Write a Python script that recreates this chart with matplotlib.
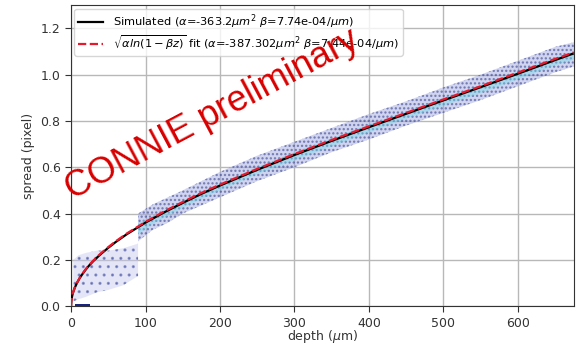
import matplotlib
matplotlib.use("Agg")
import matplotlib.pyplot as plt

# ---- data ----
curve_depth = [0, 0.5, 1, 2, 3, 5, 8, 12, 15, 20, 25, 30, 40, 50, 60, 75, 100, 125, 150,
               175, 200, 250, 300, 350, 400, 450, 500, 550, 600, 650, 675]
sim_spread = [0.0, 0.025, 0.035, 0.050, 0.061, 0.079, 0.100, 0.123, 0.137, 0.159, 0.178,
              0.195, 0.225, 0.252, 0.277, 0.311, 0.361, 0.405, 0.446, 0.485, 0.521, 0.589,
              0.653, 0.714, 0.773, 0.831, 0.889, 0.946, 1.004, 1.063, 1.092]
fit_spread = [0.0, 0.025, 0.036, 0.051, 0.062, 0.080, 0.101, 0.124, 0.139, 0.161, 0.180,
              0.197, 0.228, 0.255, 0.280, 0.314, 0.364, 0.409, 0.450, 0.489, 0.525, 0.593,
              0.657, 0.718, 0.777, 0.835, 0.893, 0.950, 1.009, 1.068, 1.096]

# scattered simulated points: envelope of the point cloud
early_depth = [3, 10, 20, 35, 50, 70, 90]
early_lo = [0.02, 0.03, 0.04, 0.06, 0.07, 0.09, 0.13]
early_hi = [0.20, 0.22, 0.23, 0.24, 0.24, 0.25, 0.27]

zero_depth = [5, 25]
zero_lo = [0.0, 0.0]
zero_hi = [0.008, 0.008]

band_depth = [90, 110, 130, 150, 200, 250, 300, 350, 400, 450, 500, 550, 600, 650, 675]
band_lo = [0.28, 0.33, 0.36, 0.40, 0.47, 0.54, 0.60, 0.665, 0.72, 0.78, 0.835, 0.89, 0.95, 1.01, 1.035]
band_hi = [0.40, 0.44, 0.47, 0.50, 0.58, 0.65, 0.71, 0.77, 0.83, 0.885, 0.945, 1.00, 1.06, 1.12, 1.14]
core_lo = [0.31, 0.355, 0.39, 0.425, 0.50, 0.57, 0.63, 0.69, 0.75, 0.81, 0.865, 0.92, 0.98, 1.04, 1.065]
core_hi = [0.36, 0.39, 0.42, 0.455, 0.53, 0.60, 0.665, 0.725, 0.785, 0.84, 0.90, 0.955, 1.015, 1.075, 1.10]

xticks = [0, 100, 200, 300, 400, 500, 600]
yticks = [0.0, 0.2, 0.4, 0.6, 0.8, 1.0, 1.2]

sim_label = r'Simulated ($\alpha$=-363.2$\mu m^2$ $\beta$=7.74e-04/$\mu m$)'
fit_label = r'$\sqrt{\alpha ln(1-\beta z)}$ fit ($\alpha$=-387.302$\mu m^2$ $\beta$=7.44e-04/$\mu m$)'

plt.rcParams['hatch.linewidth'] = 1.1
fig = plt.figure(figsize=(5.82, 3.44), dpi=100)
ax = fig.add_axes([0.122, 0.110, 0.864, 0.875])

ax.fill_between(early_depth, early_lo, early_hi, facecolor='#c4c9ee', alpha=0.45,
                edgecolor='#2c3a96', hatch='..', linewidth=0, zorder=2)
ax.fill_between(zero_depth, zero_lo, zero_hi, facecolor='#1a237e', linewidth=0, zorder=2)
ax.fill_between(band_depth, band_lo, band_hi, facecolor='#a2aae0', alpha=0.5,
                edgecolor='#1f2a80', hatch='....', linewidth=0, zorder=2)
ax.fill_between(band_depth, core_lo, core_hi, facecolor='#6fdde9', alpha=0.4,
                linewidth=0, zorder=2)

ax.plot(curve_depth, sim_spread, color='black', lw=1.6, label=sim_label, zorder=4)
ax.plot(curve_depth, fit_spread, color='#e8192c', lw=1.6, ls='--', label=fit_label, zorder=5)

ax.set_xlim(0, 675)
ax.set_ylim(0, 1.3)
ax.set_xticks(xticks)
ax.set_yticks(yticks)
ax.grid(True, color='#b8b8b8', lw=1.0)
ax.set_axisbelow(True)
ax.tick_params(labelsize=9, colors='#333333', length=4)
for s in ax.spines.values():
    s.set_color('#333333')
ax.set_xlabel(r'depth ($\mu$m)', fontsize=9, color='#333333', labelpad=-1)
ax.set_ylabel('spread (pixel)', fontsize=9, color='#333333')

ax.legend(loc='upper left', fontsize=8.2, borderaxespad=0.3, handlelength=2.2,
          labelspacing=0.15, borderpad=0.35)

fig.text(72 / 582, 1 - 200 / 344, 'CONNIE preliminary', color='#d80000',
         fontsize=26, family='Liberation Sans', rotation=28, rotation_mode='anchor',
         ha='left', va='baseline', zorder=10)

fig.savefig('out.png', dpi=100)
